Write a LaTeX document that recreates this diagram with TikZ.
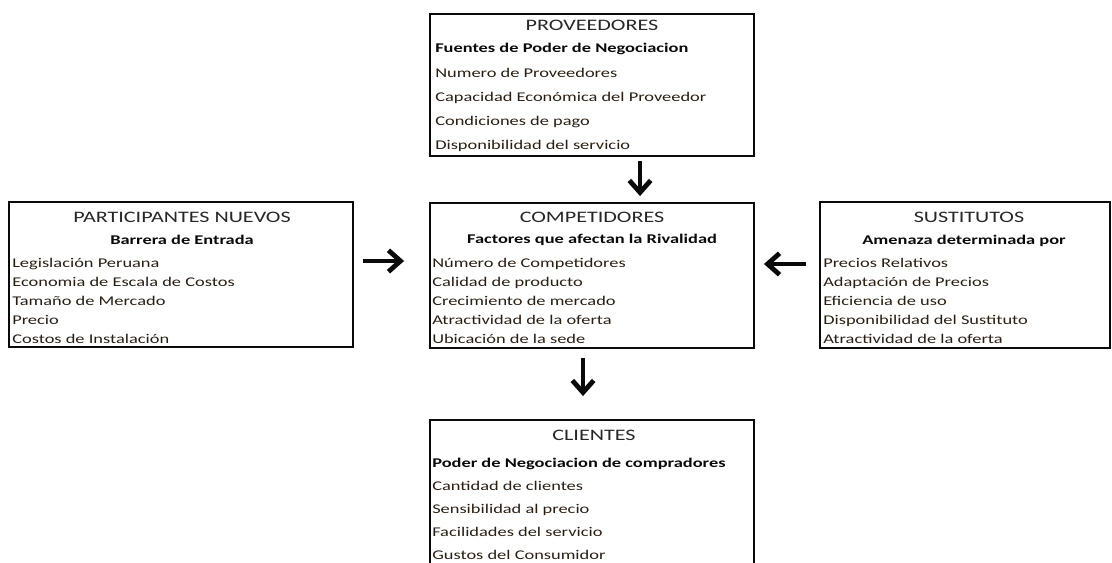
\documentclass[tikz,border=0pt]{standalone}
\usepackage{fontspec}
\setmainfont[FakeStretch=1.38]{Carlito}
\usetikzlibrary{positioning,arrows.meta,calc}
\definecolor{ink}      {HTML}{0A0A0A}
\definecolor{titleink} {HTML}{262626}
\definecolor{itemink}  {HTML}{2A1E12}
\tikzset{
  >=stealth,
  % --- boxes and texts
  box/.style  = {draw=ink, line width=1.4pt, inner sep=0pt},
  ttl/.style  = {anchor=base, inner sep=0pt, text=titleink, font=\fontsize{12}{14}\selectfont},
  hdr/.style  = {anchor=base, inner sep=0pt, text=ink, font=\fontsize{10}{12}\selectfont\bfseries},
  itm/.style  = {anchor=base west, inner sep=0pt, text=itemink, font=\fontsize{10}{12}\selectfont},
  % --- edges
  force/.style = {line width=3.6pt, draw=ink, -{Straight Barb[length=9pt,width=16pt]}},
}
\begin{document}
\begin{tikzpicture}[x=0.75pt,y=-0.75pt]
  \useasboundingbox (0,0) rectangle (1112,563);
  \clip (0,0) rectangle (1112,563);

  \node[box, minimum width=243pt, minimum height=106.5pt] (prov) at (592,85) {};
  \node[box, minimum width=258pt, minimum height=108.75pt] (part) at (181,274.5) {};
  \node[box, minimum width=243pt, minimum height=108.75pt] (comp) at (592,275.5) {};
  \node[box, minimum width=217.5pt, minimum height=109.5pt] (sust) at (965,275) {};
  \node[box, minimum width=243pt, minimum height=120pt] (clie) at (592,500) {};

  % proveedores
  \node[ttl] (prov-t) at (592,31) {PROVEEDORES};
  \node[hdr, anchor=base west] (prov-h) at (435,53) {Fuentes de Poder de Negociacion};
  \foreach \t [count=\i] in {Numero de Proveedores, Capacidad Económica del Proveedor,
                             Condiciones de pago, Disponibilidad del servicio}
    \node[itm] (prov-\i) at (435,{78+23.7*(\i-1)}) {\t};

  % participantes nuevos
  \node[ttl] (part-t) at (182,222) {PARTICIPANTES NUEVOS};
  \node[hdr] (part-h) at (182,244) {Barrera de Entrada};
  \foreach \t [count=\i] in {Legislación Peruana, Economia de Escala de Costos,
                             Tamaño de Mercado, Precio, Costos de Instalación}
    \node[itm] (part-\i) at (12,{267+19.1*(\i-1)}) {\t};

  % competidores
  \node[ttl] (comp-t) at (592,222) {COMPETIDORES};
  \node[hdr] (comp-h) at (592,243) {Factores que afectan la Rivalidad};
  \foreach \t [count=\i] in {Número de Competidores, Calidad de producto,
                             Crecimiento de mercado, Atractividad de la oferta, Ubicación de la sede}
    \node[itm] (comp-\i) at (432,{267+19.1*(\i-1)}) {\t};

  % sustitutos
  \node[ttl] (sust-t) at (969,222) {SUSTITUTOS};
  \node[hdr] (sust-h) at (964,244) {Amenaza determinada por};
  \foreach \t [count=\i] in {Precios Relativos, Adaptación de Precios, Eficiencia de uso,
                             Disponibilidad del Sustituto, Atractividad de la oferta}
    \node[itm] (sust-\i) at (823,{267+19.1*(\i-1)}) {\t};

  % clientes
  \node[ttl] (clie-t) at (594,440) {CLIENTES};
  \node[hdr, anchor=base west] (clie-h) at (432,467) {Poder de Negociacion de compradores};
  \foreach \t [count=\i] in {Cantidad de clientes, Sensibilidad al precio,
                             Facilidades del servicio, Gustos del Consumidor}
    \node[itm] (clie-\i) at (432,{490+23.3*(\i-1)}) {\t};

  \draw[force] ($(prov.south)+(48,4)$) -- ($(comp.north)+(48,-6)$);
  \draw[force] ($(part.east)+(9,-13.5)$) -- ($(comp.west)+(-25,-14.5)$);
  \draw[force] ($(sust.west)+(-13,-11)$) -- ($(comp.east)+(9,-11.5)$);
  \draw[force] ($(comp.south)+(-9,9)$) -- ($(clie.north)+(-9,-23)$);
\end{tikzpicture}
\end{document}
